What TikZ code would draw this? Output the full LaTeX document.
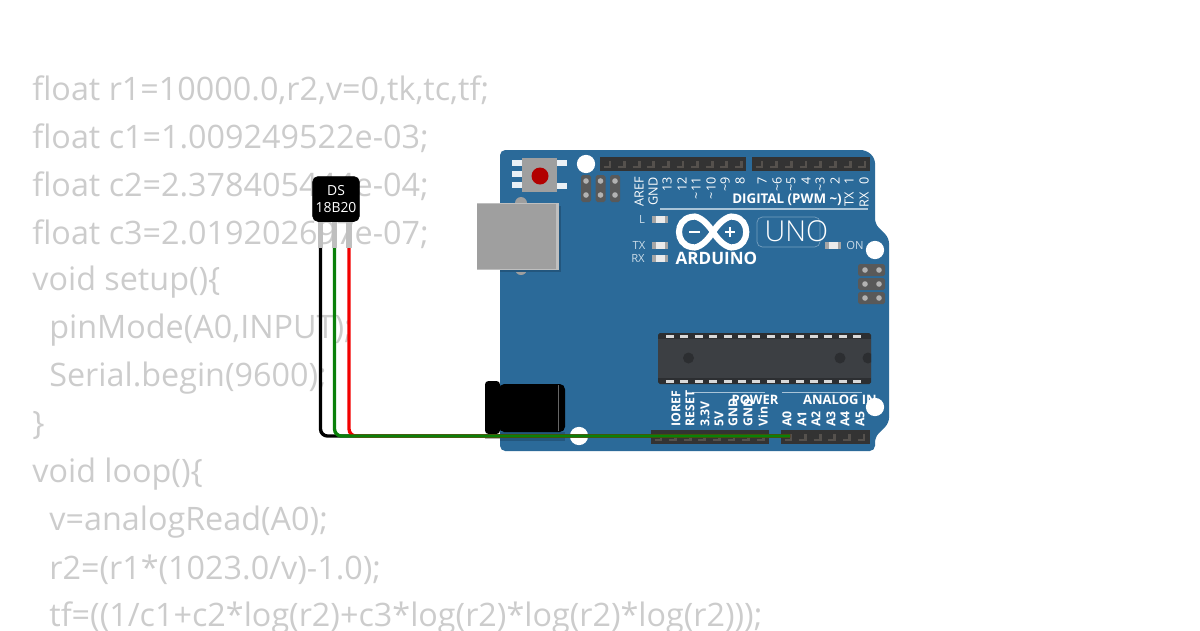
\documentclass[tikz,border=0pt]{standalone}
\usepackage{fontspec}
\setmainfont{Open Sans}
\newfontfamily\unofont{Open Sans Light}
\usepackage{tikz}

\definecolor{boardblue}{HTML}{2B6A99}
\definecolor{boardshade}{HTML}{23567D}
\definecolor{boardline}{HTML}{A9C4D8}
\definecolor{headerdark}{HTML}{333333}
\definecolor{pinmark}{HTML}{55514D}
\definecolor{chipdark}{HTML}{3C3F43}
\definecolor{chipedge}{HTML}{2C2E31}
\definecolor{usbgray}{HTML}{9F9F9F}
\definecolor{codegray}{HTML}{CCCCCC}
\definecolor{wiregreen}{HTML}{0A800A}

\tikzset{
  codeline/.style={anchor=west, inner sep=0pt, text=codegray, font=\fontsize{18.4}{20}\selectfont},
  toplabel/.style={anchor=east, rotate=90, inner sep=0pt, text=white, font=\fontsize{7.2}{8}\selectfont},
  botlabel/.style={anchor=west, rotate=90, inner sep=0pt, text=white, font=\bfseries\fontsize{7}{8}\selectfont},
  ledlabel/.style={inner sep=0pt, text=boardline!60!white, font=\fontsize{6.4}{8}\selectfont},
  boldlabel/.style={inner sep=0pt, text=white, font=\bfseries\fontsize{7.4}{8}\selectfont},
  hole/.style={circle, fill=white, inner sep=0pt, minimum size=10.4pt},
  wire/.style={line width=1.9pt, rounded corners=4pt},
  legline/.style={line width=3pt, color=black!25}
}

\begin{document}
\begin{tikzpicture}[x=0.02cm, y=-0.02cm]
\useasboundingbox (0,0) rectangle (1200,630);
\clip (0,0) rectangle (1200,630);

% code behind everything
\node (l1) at (32,90) [codeline] {float r1=10000.0,r2,v=0,tk,tc,tf;};
\node (l2) at (32,138) [codeline] {float c1=1.009249522e-03;};
\node (l3) at (32,186) [codeline] {float c2=2.378405444e-04;};
\node (l4) at (32,234) [codeline] {float c3=2.019202697e-07;};
\node (l5) at (32,282) [codeline] {void setup()\{};
\node (l6) at (49,330) [codeline] {pinMode(A0,INPUT);};
\node (l7) at (49,378) [codeline] {Serial.begin(9600);};
\node (l8) at (32,426) [codeline] {\}};
\node (l9) at (32,474) [codeline] {void loop()\{};
\node (l10) at (49,522) [codeline] {v=analogRead(A0);};
\node (l11) at (49,570) [codeline] {r2=(r1*(1023.0/v)-1.0);};
\node (l12) at (49,618) [codeline] {tf=((1/c1+c2*log(r2)+c3*log(r2)*log(r2)*log(r2)));};

% board
\fill[boardblue, rounded corners=3pt] (500,150) -- (866,150) -- (875,158) -- (875,224) -- (889,238)
  -- (889,423) -- (875,437) -- (875,451) -- (500,451) -- cycle;
\node (h1) at (586,164) [hole] {};
\node (h2) at (875,250) [hole] {};
\node (h3) at (875,407) [hole] {};

% reset button
\foreach \y in {163,174,185} \fill[white!90!boardblue] (512,\y-3) rectangle (522,\y+3);
\foreach \y in {163,186} \fill[white!90!boardblue] (557,\y-3) rectangle (567,\y+3);
\fill[usbgray] (522,158) rectangle (557,192);
\fill[red!70!black] (540,176) circle (8.5);

% icsp headers
\foreach \x in {581,595.5,610} {
  \fill[black!65, rounded corners=1pt] (\x,175) rectangle (\x+10,202);
  \fill[black!30] (\x+5,181) circle (2.8);
  \fill[black!30] (\x+5,195) circle (2.8);
}
\foreach \y in {270,284,298} {
  \fill[black!65, rounded corners=1pt] (858,\y-6) rectangle (885,\y+6);
  \fill[black!30] (865,\y) circle (2.8);
  \fill[black!30] (879,\y) circle (2.8);
}

% usb socket
\fill[usbgray] (521,203) circle (6);
\fill[usbgray] (521,269) circle (6);
\fill[boardshade] (500,206) rectangle (561,272);
\fill[black!25] (477,203) rectangle (559,270);
\fill[usbgray] (477,204) rectangle (556,269);

% pin headers
\fill[headerdark] (600,157) rectangle (746,171);
\fill[headerdark] (752,157) rectangle (870,171);
\fill[headerdark] (651,430) rectangle (769,444);
\fill[headerdark] (781,430) rectangle (870,444);
\foreach \x in {0,...,9} \draw[pinmark, line width=1.5pt] (603.5+14.6*\x,167) -- (610+14.6*\x,167) -- (610+14.6*\x,161);
\foreach \x in {0,...,7} \draw[pinmark, line width=1.5pt] (755.5+14.7*\x,167) -- (762+14.7*\x,167) -- (762+14.7*\x,161);
\foreach \x in {0,...,7} \draw[pinmark, line width=1.5pt] (654.5+14.6*\x,440) -- (661+14.6*\x,440) -- (661+14.6*\x,434);
\foreach \x in {0,...,5} \draw[pinmark, line width=1.5pt] (784.5+14.6*\x,440) -- (791+14.6*\x,440) -- (791+14.6*\x,434);

% digital side
\node (aref) at (639,177) [toplabel] {AREF};
\node (gnd1) at (653,177) [toplabel] {GND};
\node (d13) at (667,177) [toplabel] {13};
\node (d12) at (682,177) [toplabel] {12};
\node (d11) at (696,177) [toplabel] {\textasciitilde 11};
\node (d10) at (711,177) [toplabel] {\textasciitilde 10};
\node (d9) at (725,177) [toplabel] {\textasciitilde 9};
\node (d8) at (740,177) [toplabel] {8};
\node (d7) at (762,177) [toplabel] {7};
\node (d6) at (777,177) [toplabel] {\textasciitilde 6};
\node (d5) at (791,177) [toplabel] {\textasciitilde 5};
\node (d4) at (806,177) [toplabel] {4};
\node (d3) at (820,177) [toplabel] {\textasciitilde 3};
\node (d2) at (835,177) [toplabel] {2};
\node (d1) at (849,177) [toplabel] {1};
\node (d0) at (864,177) [toplabel] {0};
\node (tx) at (849,192) [toplabel] {TX};
\node (rx) at (864,192) [toplabel] {RX};
\node (digital) at (787,200) [boldlabel, font=\bfseries\fontsize{7.6}{8}\selectfont] {DIGITAL (PWM \textasciitilde)};
\fill[boardline] (660,208.3) rectangle (868,209.7);

% leds
\node (ll) at (642,219) [ledlabel] {L};
\node (ltx) at (639,245) [ledlabel] {TX};
\node (lrx) at (638,258) [ledlabel] {RX};
\node (lon) at (855,245) [ledlabel] {ON};
\foreach \x/\y in {660/219,660/245,660/258,833/245} {
  \fill[black!35] (\x-8,\y-3.5) rectangle (\x+8,\y+3.5);
  \fill[black!8] (\x-4.5,\y-3.5) rectangle (\x+4.5,\y+3.5);
}

% logo
\draw[white, line width=3.5pt] (713,232) .. controls (704,218) and (695,215) .. (691,217)
  .. controls (675,220) and (675,244) .. (691,247) .. controls (695,249) and (704,246) .. (713,232)
  .. controls (722,218) and (731,215) .. (735,217) .. controls (750,220) and (750,244) .. (735,247)
  .. controls (731,249) and (722,246) .. (713,232) -- cycle;
\fill[white] (689,230.7) rectangle (700,233.3);
\fill[white] (725,230.7) rectangle (735,233.3);
\fill[white] (728.7,227) rectangle (731.3,237);
\node (arduino) at (716.5,258) [inner sep=0pt, text=white, font=\bfseries\fontsize{9.7}{10}\selectfont] {ARDUINO};
\draw[boardline!60!boardblue, rounded corners=3pt] (757,217) rectangle (820,247);
\node (uno) at (796.5,231) [inner sep=0pt, text=white, font=\unofont\fontsize{16.4}{20}\selectfont] {UNO};

% chip
\fill[chipedge, rounded corners=1pt] (658,333) rectangle (871,384);
\fill[chipdark] (658,339) rectangle (871,378);
\foreach \x in {0,...,13} {
  \fill[white!85!black] (666+14.4*\x,335) rectangle (674+14.4*\x,337.5);
  \fill[white!85!black] (666+14.4*\x,380) rectangle (674+14.4*\x,382.5);
}
\fill[chipedge] (688.5,358) circle (5.5);
\fill[chipedge] (840,358) circle (5.5);
\begin{scope}
\clip (658,333) rectangle (871,384);
\fill[chipedge] (868,358) circle (5.5);
\end{scope}

% power side
\fill[boardline] (692,391.5) rectangle (765,392.5);
\fill[boardline] (782,391.5) rectangle (862,392.5);
\node (ioref) at (676,427) [botlabel] {IOREF};
\node (reset) at (690,427) [botlabel] {RESET};
\node (v33) at (705,427) [botlabel] {3.3V};
\node (v5) at (719,427) [botlabel] {5V};
\node (gnd2) at (733,427) [botlabel] {GND};
\node (gnd3) at (748,427) [botlabel] {GND};
\node (vin) at (763,427) [botlabel] {Vin};
\node (a0) at (787,427) [botlabel] {A0};
\node (a1) at (802,427) [botlabel] {A1};
\node (a2) at (816,427) [botlabel] {A2};
\node (a3) at (831,427) [botlabel] {A3};
\node (a4) at (845,427) [botlabel] {A4};
\node (a5) at (860,427) [botlabel] {A5};
\node (power) at (755,400) [boldlabel] {POWER};
\node (analog) at (840,400) [boldlabel] {ANALOG IN};

% barrel jack
\fill[black!30] (485,434) rectangle (500,439);
\fill[boardshade] (500,432) rectangle (565,441);
\fill[black, rounded corners=2pt] (485,381) rectangle (500,434);
\fill[black, rounded corners=3pt] (499,384) rectangle (565,432);
\draw[black!60] (558,385) -- (558,431);
\node (h4) at (579,436) [hole] {};

% sensor
\coordinate (pinb) at (320.5,248);
\coordinate (ping) at (334.5,248);
\coordinate (pinr) at (349,248);
\coordinate (bend) at (320.5,436);
\coordinate (pina) at (790,436);
\node (ds) at (336,199) [draw=black, fill=black, rounded corners=3pt, minimum width=26.5pt, minimum height=25.5pt, inner sep=0pt, text=white, align=center, font=\fontsize{7.9}{10.2}\selectfont] {DS\\18B20};
\draw[legline] (pinb) -- (pinb |- ds.south);
\draw[legline] (ping) -- (ping |- ds.south);
\draw[legline] (pinr) -- (pinr |- ds.south);

% wires
\draw[wire, black] (pinb) -- (bend) -- (pina);
\draw[wire, red!95!black] (pinr) -- (pinr |- bend) -- (pina);
\draw[wire, wiregreen] (ping) -- (ping |- bend) -- (pina);
\end{tikzpicture}
\end{document}
